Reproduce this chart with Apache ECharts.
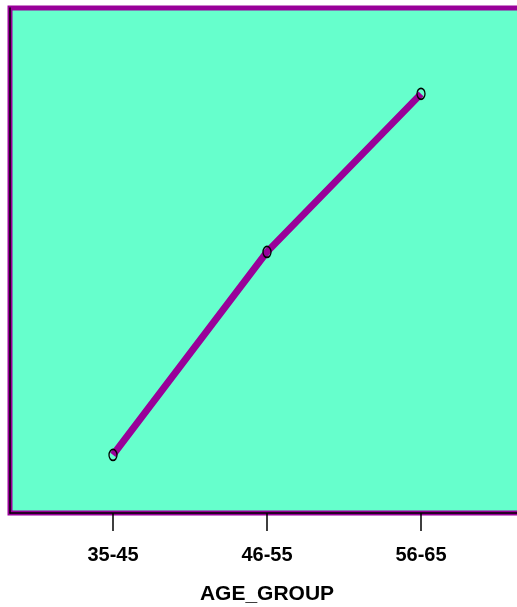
<!DOCTYPE html>
<html><head><meta charset="utf-8">
<script src="https://cdn.jsdelivr.net/npm/echarts@6/dist/echarts.min.js"></script>
<style>html,body{margin:0;padding:0;background:#fff}#c{width:517px;height:607px}</style>
</head><body><div id="c"></div>
<script>
const categories = ['35-45', '46-55', '56-65'];
const values = [11.5, 51.7, 83.0];
const xName = 'AGE_GROUP';

const chart = echarts.init(document.getElementById('c'), null, {renderer: 'canvas'});
const font = 'Liberation Sans, Arial, Helvetica, sans-serif';
chart.setOption({
  animation: false,
  grid: [
    {left: 10, top: 8, width: 530, height: 505, show: true, backgroundColor: '#66FFCC', borderColor: '#990099', borderWidth: 5, outerBoundsMode: 'none', containLabel: false},
    {left: 113, top: 8, width: 308, height: 505, outerBoundsMode: 'none', containLabel: false}
  ],
  xAxis: [
    {gridIndex: 0, type: 'value', min: 0, max: 1, axisLine: {show: true, onZero: false, lineStyle: {color: '#000', width: 1.5}}, axisTick: {show: false}, axisLabel: {show: false}, splitLine: {show: false}},
    {gridIndex: 1, type: 'category', data: categories, boundaryGap: false,
     axisLine: {show: false}, axisTick: {show: true, length: 18, lineStyle: {color: '#000', width: 1.5}},
     axisLabel: {margin: 32, fontSize: 20, fontWeight: 'bold', color: '#000', fontFamily: font},
     name: xName, nameLocation: 'middle', nameGap: 71,
     nameTextStyle: {fontSize: 21, fontWeight: 'bold', color: '#000', fontFamily: font},
     splitLine: {show: false}}
  ],
  yAxis: [
    {gridIndex: 0, type: 'value', min: 0, max: 1, axisLine: {show: true, onZero: false, lineStyle: {color: '#000', width: 1.5}}, axisTick: {show: false}, axisLabel: {show: false}, splitLine: {show: false}},
    {gridIndex: 1, type: 'value', min: 0, max: 100, axisLine: {show: false}, axisTick: {show: false}, axisLabel: {show: false}, splitLine: {show: false}}
  ],
  series: [{
    type: 'line', xAxisIndex: 1, yAxisIndex: 1, data: values,
    lineStyle: {color: '#990099', width: 7},
    symbol: 'circle', symbolSize: [8, 11], showAllSymbol: true,
    itemStyle: {color: 'rgba(0,0,0,0)', borderColor: '#000', borderWidth: 1.5},
    emphasis: {disabled: true}, z: 3
  }]
});
</script></body></html>
